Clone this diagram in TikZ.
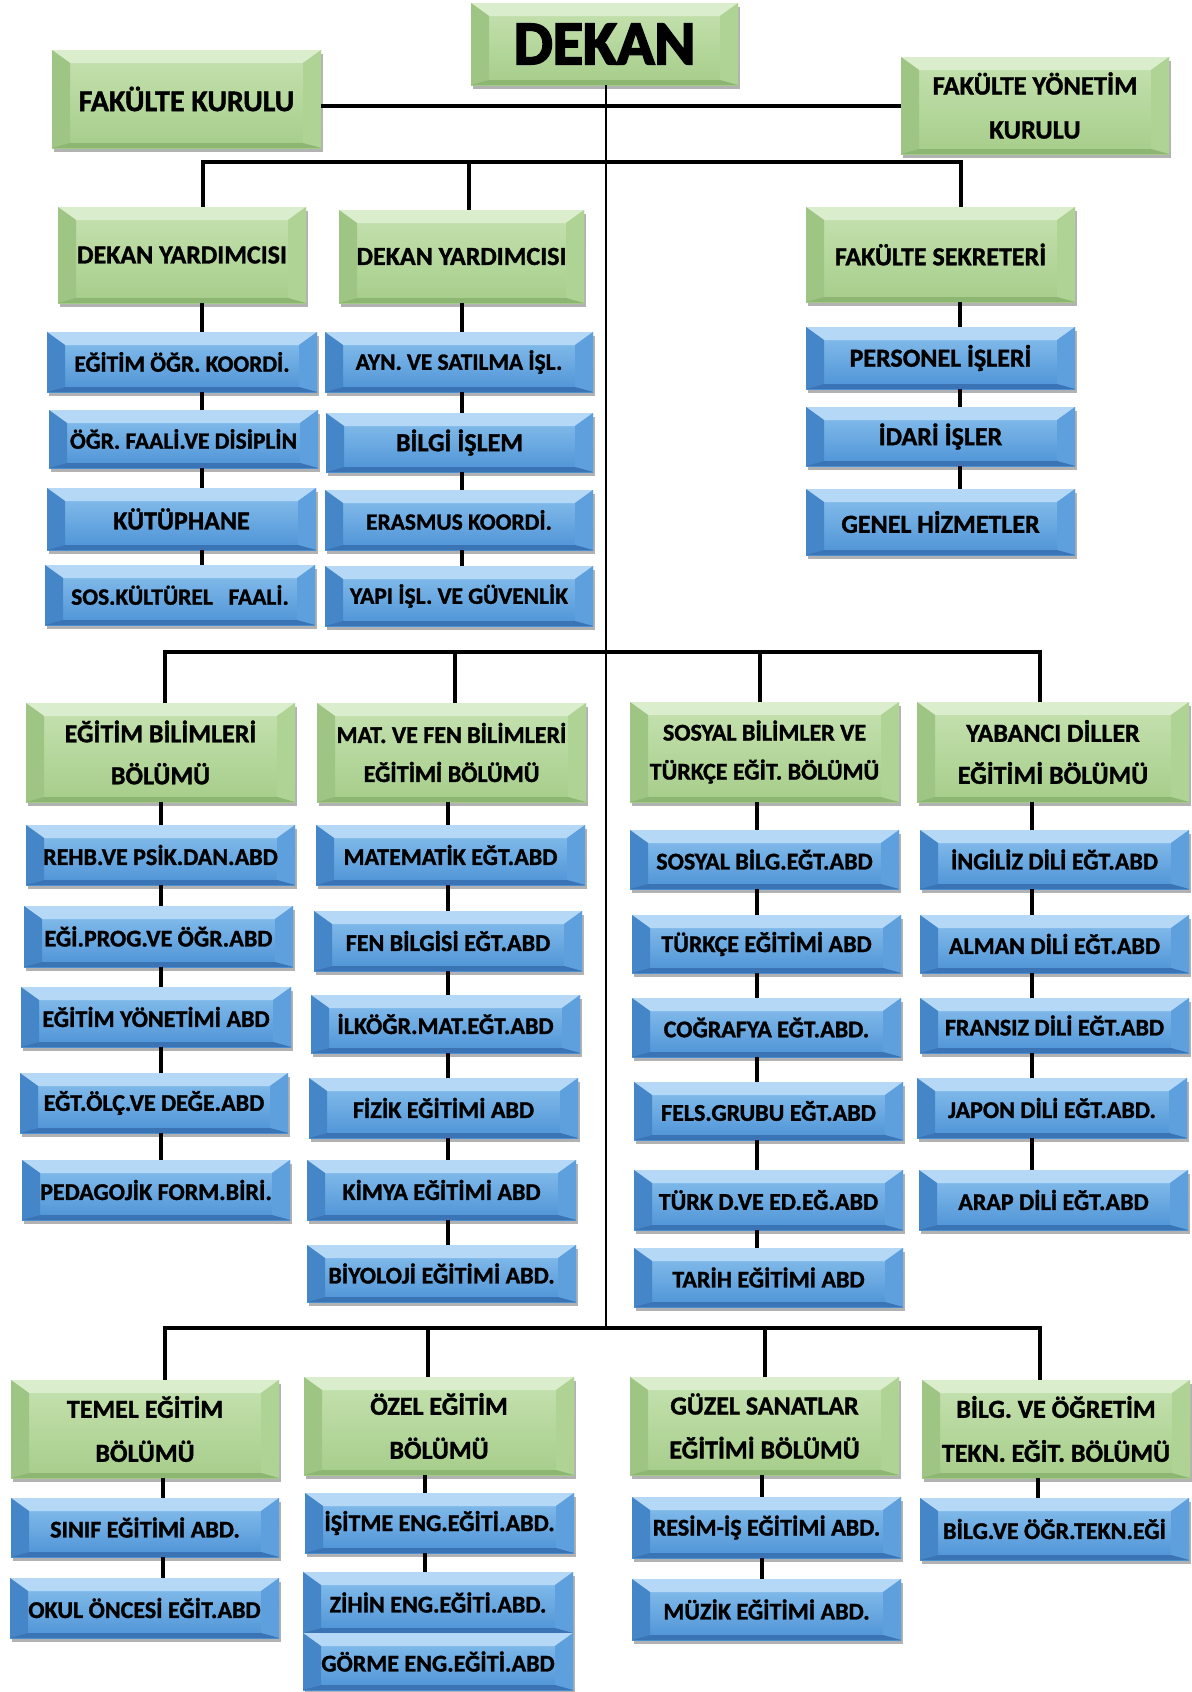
\documentclass[tikz,border=0pt]{standalone}
\usepackage{fontspec}
\setmainfont{Carlito}[BoldFeatures={FakeBold=1.3}]
\newfontfamily\dekanfont{Carlito}[BoldFeatures={FakeBold=3}]
\usetikzlibrary{shadows}
\definecolor{gA}{HTML}{C6E2B1}
\definecolor{gB}{HTML}{A6CD8A}
\definecolor{gT}{HTML}{DAEDCC}
\definecolor{gL}{HTML}{9EC584}
\definecolor{gR}{HTML}{AED394}
\definecolor{gD}{HTML}{8DB673}
\definecolor{bA}{HTML}{8CC2EE}
\definecolor{bB}{HTML}{4D93D6}
\definecolor{bT}{HTML}{B4D8F5}
\definecolor{bL}{HTML}{4586C9}
\definecolor{bR}{HTML}{5E9FDD}
\definecolor{bD}{HTML}{3A74B5}
\tikzset{
  bevel/.style n args={6}{top color=#1, bottom color=#2,
    drop shadow={shadow xshift=0.8pt, shadow yshift=-1.8pt, opacity=0.3, fill=black},
    path picture={
      \coordinate (pNW) at (path picture bounding box.north west);
      \coordinate (pNE) at (path picture bounding box.north east);
      \coordinate (pSW) at (path picture bounding box.south west);
      \coordinate (pSE) at (path picture bounding box.south east);
      \coordinate (iNW) at ([xshift=9pt,yshift=-6.5pt]pNW);
      \coordinate (iNE) at ([xshift=-9pt,yshift=-6.5pt]pNE);
      \coordinate (iSW) at ([xshift=9pt,yshift=2.5pt]pSW);
      \coordinate (iSE) at ([xshift=-9pt,yshift=2.5pt]pSE);
      \fill[#3] (pNW) -- (pNE) -- (iNE) -- (iNW) -- cycle;
      \fill[#4] (pNW) -- (iNW) -- (iSW) -- (pSW) -- cycle;
      \fill[#5] (pNE) -- (iNE) -- (iSE) -- (pSE) -- cycle;
      \fill[#6] (pSW) -- (iSW) -- (iSE) -- (pSE) -- cycle;
    }},
  gbox/.style={bevel={gA}{gB}{gT}{gL}{gR}{gD}, inner sep=1pt, align=center,
    text=black, font=\bfseries\fontsize{13}{21}\selectfont},
  bbox/.style={bevel={bA}{bB}{bT}{bL}{bR}{bD}, inner sep=1pt, align=center,
    text=black, font=\bfseries\fontsize{12}{14}\selectfont},
  bigtext/.style={font=\bfseries\fontsize{13}{14}\selectfont},
  smalltext/.style={font=\bfseries\fontsize{11.7}{14}\selectfont},
  bus/.style={line width=2pt, black},
  conn/.style={line width=2pt, black},
  cline/.style={line width=1.4pt, black},
}
\newcommand\bx[7]{%
  \pgfmathsetmacro\bxX{(#3+#5)/2}%
  \pgfmathsetmacro\bxY{(#4+#6)/2}%
  \pgfmathsetmacro\bxW{(#5-#3)*0.5}%
  \pgfmathsetmacro\bxH{(#6-#4)*0.5}%
  \node[#2, minimum width=\bxW pt, minimum height=\bxH pt] (#1) at (\bxX,\bxY) {#7};}
\begin{document}
\begin{tikzpicture}[x=0.5pt,y=-0.5pt]
\fill[white] (0,0) rectangle (1192,1692);
\useasboundingbox (0,0) rectangle (1192,1692);

% top level
\bx{dekan}{gbox, font=\dekanfont\bfseries\fontsize{31}{31}\selectfont}{471}{3}{738}{85}{DEKAN}
\bx{fk}{gbox, font=\bfseries\fontsize{15}{18}\selectfont}{52}{50}{321}{148}{FAKÜLTE KURULU}
\bx{fyk}{gbox, font=\bfseries\fontsize{13.3}{22}\selectfont}{901}{57}{1169}{154}{FAKÜLTE YÖNETİM\\KURULU}
\bx{dy1}{gbox}{58}{207}{306}{303}{DEKAN YARDIMCISI}
\bx{dy2}{gbox}{339}{210}{584}{303}{DEKAN YARDIMCISI}
\bx{fs}{gbox}{806}{207}{1075}{302}{FAKÜLTE SEKRETERİ}

\bx{a1}{bbox, smalltext}{47}{332}{317}{392}{EĞİTİM ÖĞR. KOORDİ.}
\bx{a2}{bbox, smalltext}{49}{410}{318}{468}{ÖĞR. FAALİ.VE DİSİPLİN}
\bx{a3}{bbox, bigtext}{47}{488}{316}{550}{KÜTÜPHANE}
\bx{a4}{bbox, smalltext}{45}{565}{315}{625}{SOS.KÜLTÜREL\ \ \ FAALİ.}
\bx{b1}{bbox, smalltext}{325}{332}{593}{392}{AYN. VE SATILMA İŞL.}
\bx{b2}{bbox, bigtext}{326}{413}{593}{472}{BİLGİ İŞLEM}
\bx{b3}{bbox, smalltext}{325}{490}{593}{550}{ERASMUS KOORDİ.}
\bx{b4}{bbox, smalltext}{325}{566}{593}{626}{YAPI İŞL. VE GÜVENLİK}
\bx{c1}{bbox, bigtext}{806}{327}{1075}{389}{PERSONEL İŞLERİ}
\bx{c2}{bbox, bigtext}{806}{407}{1075}{466}{İDARİ İŞLER}
\bx{c3}{bbox, bigtext}{806}{489}{1075}{555}{GENEL HİZMETLER}

% departments row 1
\bx{ebb}{gbox}{26}{703}{295}{802}{EĞİTİM BİLİMLERİ\\BÖLÜMÜ}
\bx{mfb}{gbox, font=\bfseries\fontsize{12}{19.5}\selectfont}{317}{703}{586}{802}{MAT. VE FEN BİLİMLERİ\\EĞİTİMİ BÖLÜMÜ}
\bx{sbt}{gbox, font=\bfseries\fontsize{12}{19.5}\selectfont}{630}{702}{899}{802}{SOSYAL BİLİMLER VE\\TÜRKÇE EĞİT. BÖLÜMÜ}
\bx{yde}{gbox}{917}{702}{1189}{802}{YABANCI DİLLER\\EĞİTİMİ BÖLÜMÜ}

\bx{e1}{bbox}{26}{825}{295}{885}{REHB.VE PSİK.DAN.ABD}
\bx{e2}{bbox}{24}{906}{293}{967}{EĞİ.PROG.VE ÖĞR.ABD}
\bx{e3}{bbox}{21}{987}{291}{1047}{EĞİTİM YÖNETİMİ ABD}
\bx{e4}{bbox}{20}{1073}{288}{1133}{EĞT.ÖLÇ.VE DEĞE.ABD}
\bx{e5}{bbox}{22}{1160}{290}{1220}{PEDAGOJİK FORM.BİRİ.}

\bx{m1}{bbox}{316}{825}{585}{885}{MATEMATİK EĞT.ABD}
\bx{m2}{bbox}{314}{911}{582}{971}{FEN BİLGİSİ EĞT.ABD}
\bx{m3}{bbox}{311}{995}{580}{1053}{İLKÖĞR.MAT.EĞT.ABD}
\bx{m4}{bbox}{309}{1078}{578}{1138}{FİZİK EĞİTİMİ ABD}
\bx{m5}{bbox}{307}{1160}{576}{1220}{KİMYA EĞİTİMİ ABD}
\bx{m6}{bbox}{307}{1245}{576}{1302}{BİYOLOJİ EĞİTİMİ ABD.}

\bx{s1}{bbox}{630}{830}{899}{889}{SOSYAL BİLG.EĞT.ABD}
\bx{s2}{bbox}{632}{915}{901}{973}{TÜRKÇE EĞİTİMİ ABD}
\bx{s3}{bbox}{632}{998}{901}{1057}{COĞRAFYA EĞT.ABD.}
\bx{s4}{bbox}{634}{1082}{903}{1140}{FELS.GRUBU EĞT.ABD}
\bx{s5}{bbox}{634}{1170}{903}{1230}{TÜRK D.VE ED.EĞ.ABD}
\bx{s6}{bbox}{634}{1248}{903}{1307}{TARİH EĞİTİMİ ABD}

\bx{y1}{bbox}{920}{830}{1189}{889}{İNGİLİZ DİLİ EĞT.ABD}
\bx{y2}{bbox}{920}{915}{1189}{973}{ALMAN DİLİ EĞT.ABD}
\bx{y3}{bbox}{920}{998}{1189}{1053}{FRANSIZ DİLİ EĞT.ABD}
\bx{y4}{bbox}{917}{1078}{1187}{1138}{JAPON DİLİ EĞT.ABD.}
\bx{y5}{bbox}{919}{1170}{1188}{1230}{ARAP DİLİ EĞT.ABD}

% departments row 2
\bx{te}{gbox, font=\bfseries\fontsize{13}{22}\selectfont}{11}{1380}{279}{1478}{TEMEL EĞİTİM\\BÖLÜMÜ}
\bx{oe}{gbox, font=\bfseries\fontsize{13}{22}\selectfont}{304}{1377}{574}{1475}{ÖZEL EĞİTİM\\BÖLÜMÜ}
\bx{gs}{gbox, font=\bfseries\fontsize{13}{22}\selectfont}{630}{1377}{899}{1475}{GÜZEL SANATLAR\\EĞİTİMİ BÖLÜMÜ}
\bx{bo}{gbox, font=\bfseries\fontsize{13}{22}\selectfont}{922}{1380}{1190}{1478}{BİLG. VE ÖĞRETİM\\TEKN. EĞİT. BÖLÜMÜ}

\bx{t1}{bbox}{11}{1498}{279}{1557}{SINIF EĞİTİMİ ABD.}
\bx{t2}{bbox}{10}{1578}{279}{1638}{OKUL ÖNCESİ EĞİT.ABD}
\bx{o1}{bbox}{305}{1493}{574}{1553}{İŞİTME ENG.EĞİTİ.ABD.}
\bx{o2}{bbox}{303}{1572}{573}{1633}{ZİHİN ENG.EĞİTİ.ABD.}
\bx{o3}{bbox}{303}{1633}{573}{1690}{GÖRME ENG.EĞİTİ.ABD}
\bx{g1}{bbox}{632}{1497}{901}{1558}{RESİM-İŞ EĞİTİMİ ABD.}
\bx{g2}{bbox}{632}{1579}{901}{1640}{MÜZİK EĞİTİMİ ABD.}
\bx{k1}{bbox}{920}{1498}{1189}{1560}{BİLG.VE ÖĞR.TEKN.EĞİ}

% connector coordinates
\coordinate (cb) at (606,1328);
\coordinate (h1a) at (203,162);
\coordinate (h1b) at (469,162);
\coordinate (h1c) at (961,162);
\coordinate (h2a) at (165,652);
\coordinate (h2b) at (455,652);
\coordinate (h2c) at (760,652);
\coordinate (h2d) at (1040,652);
\coordinate (h3a) at (165,1328);
\coordinate (h3b) at (428,1328);
\coordinate (h3c) at (765,1328);
\coordinate (h3d) at (1040,1328);
\coordinate (kA) at (202,0);
\coordinate (kB) at (462,0);
\coordinate (kC) at (960,0);
\coordinate (kE) at (161,0);
\coordinate (kM) at (448,0);
\coordinate (kS) at (757,0);
\coordinate (kY) at (1032,0);
\coordinate (kT) at (163,0);
\coordinate (kO) at (425,0);
\coordinate (kG) at (762,0);
\coordinate (kK) at (1038,0);

% central spine and buses
\draw[cline] (dekan.south -| cb) -- (cb);
\draw[bus] (fk.east |- 0,106) -- (fyk.west |- 0,106);
\draw[bus] (dy1.north -| h1a) -- (h1a) -- (h1c) -- (fs.north -| h1c);
\draw[bus] (h1b) -- (dy2.north -| h1b);
\draw[bus] (ebb.north -| h2a) -- (h2a) -- (h2d) -- (yde.north -| h2d);
\draw[bus] (h2b) -- (mfb.north -| h2b);
\draw[bus] (h2c) -- (sbt.north -| h2c);
\draw[bus] (te.north -| h3a) -- (h3a) -- (h3d) -- (bo.north -| h3d);
\draw[bus] (h3b) -- (oe.north -| h3b);
\draw[bus] (h3c) -- (gs.north -| h3c);

% short connectors
\foreach \p/\c in {dy1/a1,a1/a2,a2/a3,a3/a4}
  \draw[conn] (\p.south -| kA) -- (\c.north -| kA);
\foreach \p/\c in {dy2/b1,b1/b2,b2/b3,b3/b4}
  \draw[conn] (\p.south -| kB) -- (\c.north -| kB);
\foreach \p/\c in {fs/c1,c1/c2,c2/c3}
  \draw[conn] (\p.south -| kC) -- (\c.north -| kC);
\foreach \p/\c in {ebb/e1,e1/e2,e2/e3,e3/e4,e4/e5}
  \draw[conn] (\p.south -| kE) -- (\c.north -| kE);
\foreach \p/\c in {mfb/m1,m1/m2,m2/m3,m3/m4,m4/m5,m5/m6}
  \draw[conn] (\p.south -| kM) -- (\c.north -| kM);
\foreach \p/\c in {sbt/s1,s1/s2,s2/s3,s3/s4,s4/s5,s5/s6}
  \draw[conn] (\p.south -| kS) -- (\c.north -| kS);
\foreach \p/\c in {yde/y1,y1/y2,y2/y3,y3/y4,y4/y5}
  \draw[conn] (\p.south -| kY) -- (\c.north -| kY);
\foreach \p/\c in {te/t1,t1/t2}
  \draw[conn] (\p.south -| kT) -- (\c.north -| kT);
\foreach \p/\c in {oe/o1,o1/o2}
  \draw[conn] (\p.south -| kO) -- (\c.north -| kO);
\foreach \p/\c in {gs/g1,g1/g2}
  \draw[conn] (\p.south -| kG) -- (\c.north -| kG);
\draw[conn] (bo.south -| kK) -- (k1.north -| kK);
\end{tikzpicture}
\end{document}
